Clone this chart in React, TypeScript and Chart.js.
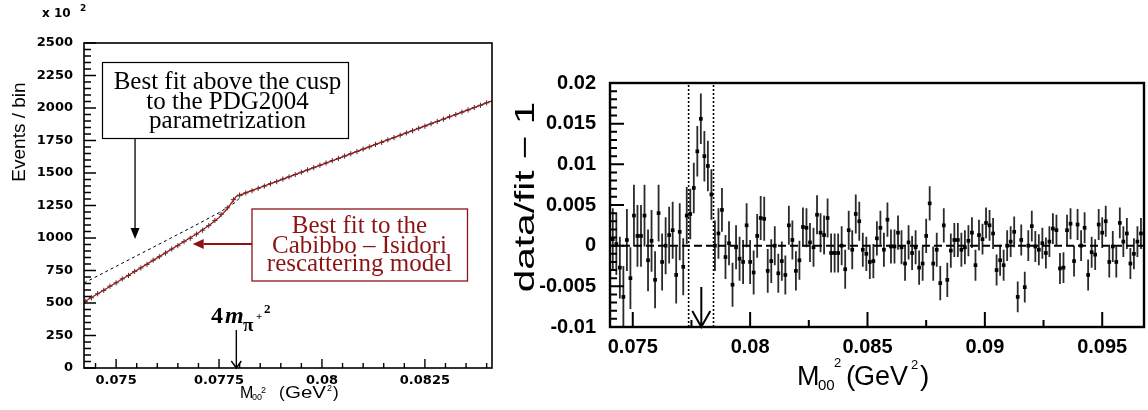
import React, { useEffect, useRef } from "react";
import { Chart, registerables } from "chart.js";

Chart.register(...registerables);

// ---------------- Left panel: Events / bin (x 10^2) ----------------
const binWidth = 0.00015; // GeV^2
const leftBinStart = 0.07425;
const leftCounts = [
  512, 540, 571, 597, 629, 655, 686, 712, 743, 770,
  797, 829, 856, 884, 915, 941, 972, 998, 1030, 1060,
  1095, 1135, 1182, 1232, 1295, 1330, 1347, 1363, 1382, 1399,
  1418, 1434, 1453, 1470, 1488, 1506, 1524, 1541, 1560, 1577,
  1595, 1612, 1630, 1648, 1665, 1684, 1700, 1720, 1736, 1755,
  1772, 1790, 1808, 1825, 1844, 1860, 1879, 1896, 1914, 1933,
  1949, 1968, 1985, 2003, 2021, 2040,
];
// Cabibbo-Isidori fit (red)
const leftFitX = [0.07422, 0.075, 0.076, 0.077, 0.0773, 0.0775, 0.0777, 0.07792, 0.078, 0.079, 0.08, 0.081, 0.082, 0.083, 0.084, 0.08413];
const leftFitY = [508, 656, 847, 1040, 1108, 1158, 1225, 1320, 1330, 1447, 1565, 1684, 1803, 1921, 2040, 2055];
// PDG2004 fit above the cusp, extrapolated (dashed)
const pdgX = [0.07422, 0.075, 0.076, 0.077, 0.0775, 0.0779, 0.0781, 0.079, 0.08, 0.081, 0.082, 0.083, 0.084, 0.08413];
const pdgY = [654, 782, 945, 1110, 1195, 1275, 1342, 1447, 1565, 1684, 1803, 1921, 2040, 2055];

const leftXMin = 0.07422;
const leftXMax = 0.08413;
const leftXTicks = [0.075, 0.0775, 0.08, 0.0825];
const leftXTickLabels = ["0.075", "0.0775", "0.08", "0.0825"];
const leftYTicks = [0, 250, 500, 750, 1000, 1250, 1500, 1750, 2000, 2250, 2500];
const leftYTickLabels = ["0", "250", "500", "750", "1000", "1250", "1500", "1750", "2000", "2250", "2500"];
const cuspX = 0.07792; // 4 m_pi+^2
const blackArrowTip = { x: 0.07546, y: 992 };
const redArrowTip = { x: 0.07686, y: 954 };

// ---------------- Right panel: data/fit - 1 ----------------
const rightBinStart = 0.07415;
const rightRatio = [
  0.0008, 0.0002, -0.0027, -0.0063, 0.0007, -0.004, 0.0037, 0.0012, 0.0012, 0.0037,
  -0.0018, 0.0006, -0.0042, 0.004, -0.002, 0.0, 0.0013, 0.0019, -0.0036, 0.0017,
  -0.0026, 0.0037, 0.0039, 0.0071, 0.0116, 0.0156, 0.011, 0.0098, 0.0063, 0.0,
  0.0015, 0.0044, -0.0014, 0.0003, -0.0048, -0.0002, -0.0016, -0.002, 0.0025, -0.002,
  -0.0033, 0.0012, 0.0034, 0.0033, -0.0031, -0.0019, 0.0, -0.0034, -0.0019, -0.0036,
  0.0025, 0.0007, -0.0031, -0.0018, 0.0023, 0.0022, 0.0004, -0.0002, 0.0038, 0.0016,
  0.0013, 0.0034, -0.0009, -0.0009, -0.0009, 0.0, -0.0029, 0.0019, -0.0005, 0.0039,
  0.003, -0.0005, -0.001, -0.002, -0.0019, 0.0009, 0.0022, -0.0005, 0.0032, -0.0001,
  -0.0001, 0.0016, -0.0002, -0.0022, 0.0004, -0.0009, -0.0002, -0.0027, -0.0022, 0.0012,
  0.0052, -0.0022, -0.0005, -0.0046, 0.0025, -0.0042, -0.0006, 0.0007, 0.0007, -0.0005,
  -0.0002, 0.0006, 0.0016, -0.0024, 0.0013, 0.0008, 0.0028, 0.0025, 0.0015, -0.003,
  -0.0018, -0.0024, 0.0, 0.0005, 0.0017, -0.0063, 0.0007, -0.0051, 0.0, 0.0024,
  -0.0001, -0.0005, 0.0003, -0.0009, 0.0005, 0.0021, 0.0019, -0.0028, -0.0027, 0.0019,
  0.0027, -0.0019, 0.0026, 0.0, 0.0022, -0.0036, -0.0008, -0.0011, 0.0026, 0.0016,
  0.003, -0.002, -0.0001, -0.002, 0.0028, 0.0005, 0.0015, -0.0022, -0.001, 0.0005,
  0.0015,
];
const rightErr = [
  0.0038, 0.0038, 0.0038, 0.0038, 0.0038, 0.0038, 0.0038, 0.0038, 0.0038, 0.0038,
  0.0038, 0.0038, 0.0035, 0.0035, 0.0035, 0.0035, 0.0035, 0.0035, 0.0035, 0.0035,
  0.0035, 0.0035, 0.0031, 0.0031, 0.0031, 0.0031, 0.0031, 0.0031, 0.0031, 0.0031,
  0.0031, 0.0027, 0.0027, 0.0027, 0.0027, 0.0027, 0.0027, 0.0027, 0.0027, 0.0027,
  0.0027, 0.0027, 0.0027, 0.0027, 0.0027, 0.0027, 0.0024, 0.0024, 0.0024, 0.0024,
  0.0024, 0.0024, 0.0024, 0.0024, 0.0024, 0.0024, 0.0024, 0.0024, 0.0024, 0.0024,
  0.0024, 0.0024, 0.0024, 0.0024, 0.0024, 0.0024, 0.0024, 0.0024, 0.0024, 0.0024,
  0.0024, 0.0021, 0.0021, 0.0021, 0.0021, 0.0021, 0.0021, 0.0021, 0.0021, 0.0021,
  0.0021, 0.0021, 0.0021, 0.0021, 0.0021, 0.0021, 0.0021, 0.0021, 0.0021, 0.0021,
  0.0021, 0.0021, 0.0021, 0.0021, 0.0021, 0.0021, 0.0021, 0.0021, 0.0021, 0.0021,
  0.0021, 0.0019, 0.0019, 0.0019, 0.0019, 0.0019, 0.0019, 0.0019, 0.0019, 0.0019,
  0.0019, 0.0019, 0.0019, 0.0019, 0.0019, 0.0019, 0.0019, 0.0019, 0.0019, 0.0019,
  0.0019, 0.0019, 0.0019, 0.0019, 0.0019, 0.0019, 0.0019, 0.0019, 0.0019, 0.0019,
  0.0019, 0.0019, 0.0019, 0.0019, 0.0019, 0.0019, 0.0019, 0.0019, 0.0019, 0.0019,
  0.0019, 0.0019, 0.0019, 0.0019, 0.0019, 0.0019, 0.0019, 0.0019, 0.0019, 0.0019,
  0.0019,
];
const rightXMin = 0.07403;
const rightXMax = 0.09678;
const rightXTicks = [0.075, 0.08, 0.085, 0.09, 0.095];
const rightXTickLabels = ["0.075", "0.08", "0.085", "0.09", "0.095"];
const rightYTicks = [-0.01, -0.005, 0, 0.005, 0.01, 0.015, 0.02];
const rightYTickLabels = ["-0.01", "-0.005", "0", "0.005", "0.01", "0.015", "0.02"];
const excludedLow = 0.07738;
const excludedHigh = 0.07844;

// page x where the right canvas starts
const RIGHT_OFFSET = 480;

// ---------------- helpers ----------------
const labelFor = (ticks: number[], labels: string[]) => (v: any) => {
  const i = ticks.findIndex((t) => Math.abs(t - Number(v)) < 1e-9);
  return i >= 0 ? labels[i] : "";
};

type Seg = { t: string; font: string; x: number; y: number; sx?: number };
function drawSegs(ctx: CanvasRenderingContext2D, segs: Seg[], color = "#000") {
  ctx.save();
  ctx.fillStyle = color;
  ctx.textAlign = "left";
  ctx.textBaseline = "alphabetic";
  for (const s of segs) {
    ctx.save();
    ctx.translate(s.x, s.y);
    ctx.scale(s.sx ?? 1, 1);
    ctx.font = s.font;
    ctx.fillText(s.t, 0, 0);
    ctx.restore();
  }
  ctx.restore();
}

function rotatedText(ctx: CanvasRenderingContext2D, text: string, x: number, y: number, font: string, sx: number) {
  ctx.save();
  ctx.translate(x, y);
  ctx.rotate(-Math.PI / 2);
  ctx.scale(sx, 1);
  ctx.font = font;
  ctx.fillStyle = "#000";
  ctx.textAlign = "center";
  ctx.textBaseline = "alphabetic";
  ctx.fillText(text, 0, 0);
  ctx.restore();
}

function innerTicks(
  ctx: CanvasRenderingContext2D,
  chart: any,
  o: { xMajor: number[]; xStep: number; xMaj: number; xMin: number; yMajor: number[]; yStep: number; yMaj: number; yMin: number; lw: number }
) {
  const { left, bottom } = chart.chartArea;
  const xs = chart.scales.x;
  const ys = chart.scales.y;
  const isMajor = (v: number, arr: number[], step: number) => arr.some((a) => Math.abs(a - v) < step * 1e-3);
  ctx.save();
  ctx.strokeStyle = "#000";
  ctx.lineWidth = o.lw;
  ctx.beginPath();
  const kx0 = Math.ceil(xs.min / o.xStep - 1e-6);
  const kx1 = Math.floor(xs.max / o.xStep + 1e-6);
  for (let k = kx0; k <= kx1; k++) {
    const v = k * o.xStep;
    const len = isMajor(v, o.xMajor, o.xStep) ? o.xMaj : o.xMin;
    const p = xs.getPixelForValue(v);
    ctx.moveTo(p, bottom);
    ctx.lineTo(p, bottom - len);
  }
  const ky0 = Math.ceil(ys.min / o.yStep - 1e-6);
  const ky1 = Math.floor(ys.max / o.yStep + 1e-6);
  for (let k = ky0; k <= ky1; k++) {
    const v = k * o.yStep;
    const len = isMajor(v, o.yMajor, o.yStep) ? o.yMaj : o.yMin;
    const p = ys.getPixelForValue(v);
    ctx.moveTo(left, p);
    ctx.lineTo(left + len, p);
  }
  ctx.stroke();
  ctx.restore();
}

function frame(ctx: CanvasRenderingContext2D, chart: any, lw: number) {
  const { left, right, top, bottom } = chart.chartArea;
  ctx.save();
  ctx.strokeStyle = "#000";
  ctx.lineWidth = lw;
  ctx.strokeRect(left, top, right - left, bottom - top);
  ctx.restore();
}

function filledArrow(ctx: CanvasRenderingContext2D, x1: number, y1: number, x2: number, y2: number, head: number, hw: number, color: string, lw: number) {
  const a = Math.atan2(y2 - y1, x2 - x1);
  const bx = x2 - Math.cos(a) * head;
  const by = y2 - Math.sin(a) * head;
  ctx.save();
  ctx.strokeStyle = color;
  ctx.fillStyle = color;
  ctx.lineWidth = lw;
  ctx.beginPath();
  ctx.moveTo(x1, y1);
  ctx.lineTo(bx, by);
  ctx.stroke();
  ctx.beginPath();
  ctx.moveTo(x2, y2);
  ctx.lineTo(bx - Math.sin(a) * hw, by + Math.cos(a) * hw);
  ctx.lineTo(bx + Math.sin(a) * hw, by - Math.cos(a) * hw);
  ctx.closePath();
  ctx.fill();
  ctx.restore();
}

function openArrowDown(ctx: CanvasRenderingContext2D, x: number, y1: number, y2: number, head: number, hw: number, lw: number) {
  ctx.save();
  ctx.strokeStyle = "#000";
  ctx.lineWidth = lw;
  ctx.beginPath();
  ctx.moveTo(x, y1);
  ctx.lineTo(x, y2);
  ctx.moveTo(x - hw, y2 - head);
  ctx.lineTo(x, y2);
  ctx.lineTo(x + hw, y2 - head);
  ctx.stroke();
  ctx.restore();
}

const leftPlugin = {
  id: "leftDecor",
  afterDraw(chart: any) {
    const ctx: CanvasRenderingContext2D = chart.ctx;
    const xs = chart.scales.x;
    const ys = chart.scales.y;
    const { bottom } = chart.chartArea;
    innerTicks(ctx, chart, { xMajor: leftXTicks, xStep: 0.0005, xMaj: 9, xMin: 5, yMajor: leftYTicks, yStep: 50, yMaj: 12, yMin: 7, lw: 1.4 });
    frame(ctx, chart, 1.6);

    // box 1 (black)
    ctx.save();
    ctx.fillStyle = "#fff";
    ctx.fillRect(102.5, 62.5, 246, 76);
    ctx.strokeStyle = "#000";
    ctx.lineWidth = 1.2;
    ctx.strokeRect(102.5, 62.5, 246, 76);
    ctx.font = '25px "Liberation Serif"';
    ctx.fillStyle = "#000";
    ctx.textAlign = "center";
    ctx.textBaseline = "alphabetic";
    ctx.fillText("Best fit above the cusp", 227.5, 88.5);
    ctx.fillText("to the PDG2004", 227.5, 108.5);
    ctx.fillText("parametrization", 227.5, 127.5);
    ctx.restore();
    const bax = xs.getPixelForValue(blackArrowTip.x);
    filledArrow(ctx, bax, 139, bax, ys.getPixelForValue(blackArrowTip.y), 11, 4.5, "#000", 1.3);

    // box 2 (dark red)
    const red = "#8c1414";
    ctx.save();
    ctx.fillStyle = "#fff";
    ctx.fillRect(252, 209, 215.5, 72);
    ctx.strokeStyle = red;
    ctx.lineWidth = 1.3;
    ctx.strokeRect(252, 209, 215.5, 72);
    ctx.font = '25px "Liberation Serif"';
    ctx.fillStyle = red;
    ctx.textAlign = "center";
    ctx.textBaseline = "alphabetic";
    ctx.fillText("Best fit to the", 359.5, 232.5);
    ctx.fillText("Cabibbo \u2013 Isidori", 359.5, 252.5);
    ctx.fillText("rescattering model", 359.5, 271);
    ctx.restore();
    const rty = ys.getPixelForValue(redArrowTip.y);
    filledArrow(ctx, 252, rty, xs.getPixelForValue(redArrowTip.x), rty, 11, 5, red, 2.2);

    // 4 m_pi+^2 label and arrow
    drawSegs(ctx, [
      { t: "4", font: 'bold 24px "Liberation Serif"', x: 211, y: 323 },
      { t: "m", font: 'italic bold 24px "Liberation Serif"', x: 225, y: 323 },
      { t: "\u03c0", font: 'bold 19px "Liberation Serif"', x: 243, y: 331 },
      { t: "+", font: 'bold 11px "Liberation Serif"', x: 256, y: 320 },
      { t: "2", font: 'bold 13px "Liberation Serif"', x: 264, y: 313 },
    ]);
    openArrowDown(ctx, xs.getPixelForValue(cuspX), 330, bottom, 7, 5, 1.4);

    // axis titles
    drawSegs(ctx, [
      { t: "M", font: '16px "Liberation Sans"', x: 240, y: 398 },
      { t: "00", font: '9px "Liberation Sans"', x: 252, y: 400 },
      { t: "2", font: '9px "Liberation Sans"', x: 261, y: 393 },
      { t: "(", font: '17px "Liberation Sans"', x: 279, y: 398 },
      { t: "GeV", font: '16px "Liberation Sans"', x: 285, y: 398, sx: 1.28 },
      { t: "2", font: '9px "Liberation Sans"', x: 327, y: 391 },
      { t: ")", font: '17px "Liberation Sans"', x: 333, y: 398 },
    ]);
    rotatedText(ctx, "Events / bin", 25, 132, '19px "Liberation Sans"', 1.0);
    drawSegs(ctx, [
      { t: "x 10", font: 'bold 12px "DejaVu Sans"', x: 42, y: 17 },
      { t: "2", font: 'bold 9px "DejaVu Sans"', x: 80, y: 11 },
    ]);
  },
};

const rightPlugin = {
  id: "rightDecor",
  beforeDatasetsDraw(chart: any) {
    const ctx: CanvasRenderingContext2D = chart.ctx;
    const xs = chart.scales.x;
    const ys = chart.scales.y;
    const { left, right, top, bottom } = chart.chartArea;
    ctx.save();
    ctx.beginPath();
    ctx.rect(left, top, right - left, bottom - top);
    ctx.clip();
    ctx.strokeStyle = "#2a2a2a";
    ctx.lineWidth = 1.8;
    ctx.beginPath();
    rightRatio.forEach((v, i) => {
      const x = xs.getPixelForValue(rightBinStart + i * binWidth);
      ctx.moveTo(x, ys.getPixelForValue(v - rightErr[i]));
      ctx.lineTo(x, ys.getPixelForValue(v + rightErr[i]));
    });
    ctx.stroke();
    ctx.restore();
  },
  afterDraw(chart: any) {
    const ctx: CanvasRenderingContext2D = chart.ctx;
    const xs = chart.scales.x;
    const { bottom } = chart.chartArea;
    const o = RIGHT_OFFSET;
    innerTicks(ctx, chart, { xMajor: rightXTicks, xStep: 0.0025, xMaj: 15, xMin: 7, yMajor: rightYTicks, yStep: 0.001, yMaj: 14, yMin: 7, lw: 2 });
    frame(ctx, chart, 2.4);
    openArrowDown(ctx, xs.getPixelForValue(cuspX), 287, bottom, 16, 9, 2);
    drawSegs(ctx, [
      { t: "M", font: '27px "Liberation Sans"', x: 797 - o, y: 385 },
      { t: "00", font: '15px "Liberation Sans"', x: 818 - o, y: 390 },
      { t: "2", font: '13px "Liberation Sans"', x: 834 - o, y: 367 },
      { t: "(", font: '28px "Liberation Sans"', x: 846 - o, y: 385 },
      { t: "GeV", font: '27px "Liberation Sans"', x: 854 - o, y: 385 },
      { t: "2", font: '13px "Liberation Sans"', x: 911 - o, y: 369 },
      { t: ")", font: '28px "Liberation Sans"', x: 920 - o, y: 385 },
    ]);
    rotatedText(ctx, "data/fit \u2212 1", 534 - o, 197, '28px "Liberation Sans"', 1.45);
  },
};

export default function App() {
  const leftRef = useRef<HTMLCanvasElement | null>(null);
  const rightRef = useRef<HTMLCanvasElement | null>(null);

  useEffect(() => {
    const baseTick = (family: string, size: number, padding: number) => ({
      color: "#000",
      padding,
      autoSkip: false,
      maxRotation: 0,
      font: { family, weight: "bold" as const, size },
    });

    const left = new Chart(leftRef.current as HTMLCanvasElement, {
      type: "scatter",
      data: {
        datasets: [
          {
            label: "Cabibbo-Isidori fit",
            data: leftFitX.map((x, i) => ({ x, y: leftFitY[i] })),
            showLine: true,
            borderColor: "#a01818",
            borderWidth: 1.3,
            pointRadius: 0,
          },
          {
            label: "data",
            data: leftCounts.map((y, i) => ({ x: leftBinStart + i * binWidth, y })),
            showLine: false,
            pointStyle: "cross",
            pointRadius: 2.6,
            borderColor: "#222",
            borderWidth: 0.9,
          },
          {
            label: "PDG2004 fit",
            data: pdgX.map((x, i) => ({ x, y: pdgY[i] })),
            showLine: true,
            borderColor: "#000",
            borderWidth: 1,
            borderDash: [3, 3],
            pointRadius: 0,
          },
        ],
      },
      options: {
        animation: false,
        responsive: false,
        layout: { padding: { left: 0, right: 48, top: 43, bottom: 0 } },
        plugins: { legend: { display: false }, tooltip: { enabled: false } },
        scales: {
          x: {
            type: "linear",
            min: leftXMin,
            max: leftXMax,
            grid: { display: false },
            border: { display: false },
            afterBuildTicks: (s: any) => {
              s.ticks = leftXTicks.map((value) => ({ value }));
            },
            afterFit: (s: any) => {
              s.height = 42;
            },
            ticks: { ...baseTick("DejaVu Sans", 13, -3), callback: labelFor(leftXTicks, leftXTickLabels) },
          },
          y: {
            type: "linear",
            min: 0,
            max: 2500,
            grid: { display: false },
            border: { display: false },
            afterBuildTicks: (s: any) => {
              s.ticks = leftYTicks.map((value) => ({ value }));
            },
            afterFit: (s: any) => {
              s.width = 84;
            },
            ticks: { ...baseTick("DejaVu Sans", 13, 3), callback: labelFor(leftYTicks, leftYTickLabels) },
          },
        },
      },
      plugins: [leftPlugin],
    });

    const right = new Chart(rightRef.current as HTMLCanvasElement, {
      type: "scatter",
      data: {
        datasets: [
          {
            label: "data/fit - 1",
            data: rightRatio.map((y, i) => ({ x: rightBinStart + i * binWidth, y })),
            pointStyle: "rect",
            pointRadius: 2.6,
            backgroundColor: "#000",
            borderWidth: 0,
          },
          {
            label: "zero",
            data: [
              { x: rightXMin, y: 0 },
              { x: rightXMax, y: 0 },
            ],
            showLine: true,
            borderColor: "#000",
            borderWidth: 2,
            borderDash: [8, 4],
            pointRadius: 0,
          },
          {
            label: "excluded low",
            data: [
              { x: excludedLow, y: -0.01 },
              { x: excludedLow, y: 0.02 },
            ],
            showLine: true,
            borderColor: "#000",
            borderWidth: 1.6,
            borderDash: [2, 2],
            pointRadius: 0,
          },
          {
            label: "excluded high",
            data: [
              { x: excludedHigh, y: -0.01 },
              { x: excludedHigh, y: 0.02 },
            ],
            showLine: true,
            borderColor: "#000",
            borderWidth: 1.6,
            borderDash: [2, 2],
            pointRadius: 0,
          },
        ],
      },
      options: {
        animation: false,
        responsive: false,
        layout: { padding: { left: 0, right: 1, top: 83, bottom: 0 } },
        plugins: { legend: { display: false }, tooltip: { enabled: false } },
        scales: {
          x: {
            type: "linear",
            min: rightXMin,
            max: rightXMax,
            grid: { display: false },
            border: { display: false },
            afterBuildTicks: (s: any) => {
              s.ticks = rightXTicks.map((value) => ({ value }));
            },
            afterFit: (s: any) => {
              s.height = 83;
            },
            ticks: { ...baseTick("Liberation Sans", 20, 0), callback: labelFor(rightXTicks, rightXTickLabels) },
          },
          y: {
            type: "linear",
            min: -0.01,
            max: 0.02,
            grid: { display: false },
            border: { display: false },
            afterBuildTicks: (s: any) => {
              s.ticks = rightYTicks.map((value) => ({ value }));
            },
            afterFit: (s: any) => {
              s.width = 610 - RIGHT_OFFSET;
            },
            ticks: { ...baseTick("Liberation Sans", 20, 6), callback: labelFor(rightYTicks, rightYTickLabels) },
          },
        },
      },
      plugins: [rightPlugin],
    });

    return () => {
      left.destroy();
      right.destroy();
    };
  }, []);

  return (
    <div style={{ position: "absolute", left: 0, top: 0, width: 1148, height: 410, background: "#fff", overflow: "hidden" }}>
      <canvas ref={rightRef} width={1148 - RIGHT_OFFSET} height={410} style={{ position: "absolute", left: RIGHT_OFFSET, top: 0, width: 1148 - RIGHT_OFFSET, height: 410 }} />
      <canvas ref={leftRef} width={540} height={410} style={{ position: "absolute", left: 0, top: 0, width: 540, height: 410 }} />
    </div>
  );
}
